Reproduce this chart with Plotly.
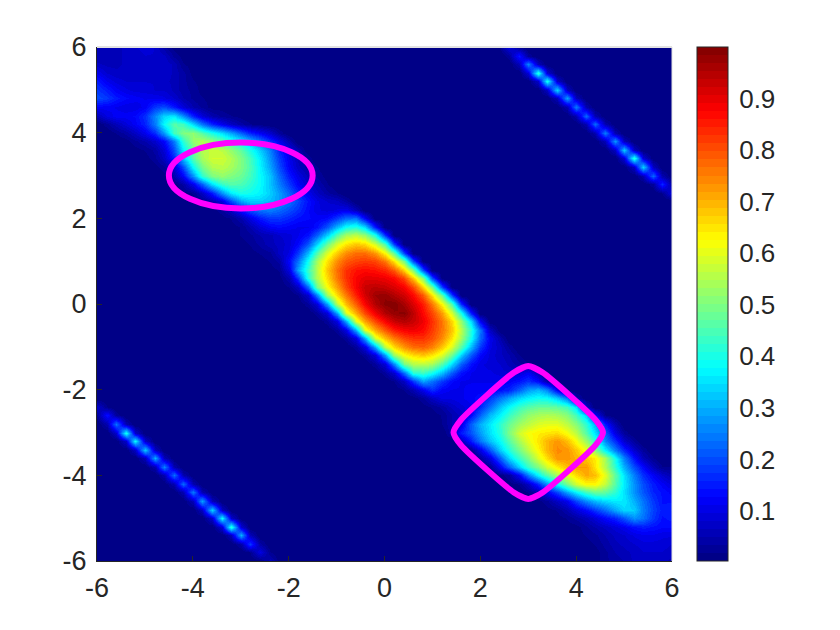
import numpy as np
import plotly.graph_objects as go

# grid of the surface, 0.2 steps, rows run from y=6 down to y=-6
x_grid = [round(-6 + 0.2 * i, 1) for i in range(61)]
y_grid = [round(6 - 0.2 * r, 1) for r in range(61)]

# diagonal band, percent; each row starts at column max(r-8, 0)
band_rows = [
    [5,5,6,7,8,9,8,4,1],
    [5,6,6,7,7,8,8,7,3,1],
    [7,6,6,7,7,8,8,8,6,2,1],
    [11,8,7,7,8,8,8,8,6,4,1,0],
    [15,11,9,8,8,8,8,7,6,4,2,1,0],
    [18,15,12,10,9,9,8,8,6,4,3,1,0,0],
    [20,18,15,13,12,11,11,10,8,5,3,2,1,0,0],
    [12,12,11,10,10,12,18,20,15,9,5,3,1,1,0,0],
    [6,10,12,12,13,17,26,34,36,27,16,9,5,3,2,1,0],
    [3,6,9,12,16,25,38,46,44,34,24,16,11,7,4,2,1],
    [2,4,7,11,17,28,44,50,52,46,40,35,29,22,16,12,8,3],
    [1,3,5,8,13,25,42,52,55,52,47,42,37,31,24,17,11,5],
    [1,2,4,9,20,36,48,55,57,56,52,47,40,33,25,16,10,5],
    [1,3,7,16,32,46,54,58,58,55,50,44,36,27,18,11,6,3],
    [1,3,8,20,38,49,55,56,54,50,45,37,29,20,12,7,4,2],
    [1,5,12,27,42,50,52,50,48,44,38,32,23,15,10,6,3,1],
    [1,4,11,22,35,43,46,45,42,38,32,25,18,12,8,5,2],
    [1,2,7,15,27,36,40,39,37,33,28,22,16,11,7,4,2],
    [1,2,5,10,20,29,33,33,31,28,24,19,14,10,8,7,4],
    [0,1,3,7,14,20,24,25,23,20,17,13,10,9,10,11,6],
    [0,1,2,5,10,15,18,18,16,14,13,12,13,18,23,24,12],
    [0,1,2,5,9,12,13,12,11,11,14,21,31,39,41,34,15],
    [1,2,3,5,6,8,9,11,14,22,33,46,54,56,52,40,17],
    [1,2,4,6,7,9,13,21,34,48,59,65,68,66,58,45,18],
    [1,2,3,7,10,18,31,46,59,68,74,77,77,73,63,47,19],
    [1,2,4,13,24,39,54,65,74,79,81,82,81,76,65,49,20],
    [1,2,10,29,43,56,68,77,83,86,87,86,84,79,67,50,20],
    [1,5,18,41,55,66,76,83,88,90,90,89,87,81,68,50,20],
    [2,7,23,49,62,72,81,88,93,94,93,91,88,81,67,49,19],
    [2,8,26,53,66,76,85,92,97,98,95,92,87,79,65,47,18],
    [3,9,28,56,69,79,88,95,99,100,96,91,85,76,63,45,17],
    [3,9,29,59,71,81,89,95,98,99,94,87,81,72,58,40,15],
    [3,10,30,60,72,81,88,93,95,93,89,83,76,66,52,34,12],
    [3,10,30,60,71,79,85,88,89,87,82,76,68,56,41,24,7],
    [3,10,30,59,69,76,81,83,83,80,74,65,54,39,23,11,5],
    [3,10,29,56,66,73,77,78,75,68,59,46,31,18,10,7,3],
    [3,9,28,53,62,66,68,65,59,48,33,21,13,9,7,5,2],
    [3,9,26,49,55,56,54,46,34,22,14,10,9,8,6,4,2],
    [3,8,23,41,43,39,31,21,14,11,10,10,9,8,9,12,6],
    [2,7,18,29,24,18,13,11,11,11,11,11,12,14,17,13,4],
    [2,5,11,17,12,11,11,12,12,12,14,16,22,28,31,26,12],
    [1,3,7,10,10,11,12,14,18,24,29,34,37,39,38,33,24,5],
    [1,2,4,7,9,11,16,24,32,38,43,46,48,48,47,44,35,8],
    [1,2,5,7,13,22,31,37,43,48,52,54,55,54,51,44,33,12,2],
    [2,5,10,22,30,36,42,48,53,56,59,60,60,56,51,42,30,15,5],
    [5,15,21,28,35,41,50,58,62,64,65,66,62,56,46,35,22,10,3],
    [6,15,24,32,38,46,54,60,65,70,73,69,62,53,42,26,17,8,3],
    [2,10,21,33,41,49,56,63,70,74,73,68,61,51,37,25,16,8,3],
    [3,10,22,34,43,50,59,66,73,73,70,68,64,54,39,25,14,6,2],
    [2,12,22,33,43,50,58,64,69,72,72,65,55,42,30,20,13,6,2,2],
    [1,3,12,25,37,46,54,60,66,71,69,60,47,35,25,17,12,8,5],
    [1,2,7,16,27,38,49,58,63,63,57,46,36,27,20,15,12,9],
    [0,2,5,12,19,29,37,44,48,47,42,35,27,21,16,14,12],
    [0,1,3,7,11,19,26,31,34,36,36,30,24,18,14,14],
    [0,1,2,5,9,13,18,23,29,34,33,25,19,15,16],
    [0,1,2,4,6,9,13,16,21,27,24,18,14,15],
    [0,1,1,3,5,7,9,11,14,15,14,13,13],
    [0,1,2,3,5,7,8,10,11,11,10,10],
    [0,1,2,4,6,7,8,9,9,9,8],
    [0,1,3,5,6,7,8,8,8,7],
    [1,3,4,5,7,7,7,7,6],
]

# the two thin stripes, percent, centre cell and the cells next to it
upper_stripe = [10,15,26,42,40,34,29,25,23,23,25,28,33,42,34,23,16,10]
upper_stripe_side = [2,3,6,9,8,7,6,5,5,5,5,6,7,9,7,5,3,2]
lower_stripe = [8,14,24,40,38,33,30,26,24,23,25,29,34,38,42,30,18,10,6]
lower_stripe_side = [2,3,5,8,8,7,6,5,5,5,5,6,7,8,9,6,4,2,1]

tick_vals = [-6, -4, -2, 0, 2, 4, 6]
tick_text = ["-6", "-4", "-2", "0", "2", "4", "6"]
cbar_vals = [0.1, 0.2, 0.3, 0.4, 0.5, 0.6, 0.7, 0.8, 0.9]
cbar_text = ["0.1", "0.2", "0.3", "0.4", "0.5", "0.6", "0.7", "0.8", "0.9"]
z_min = 0.003
z_max = 1.0

ellipse_x = [-4.5, -1.5]
ellipse_y = [2.23, 3.77]
diamond_x = [3, 3.3, 4.4, 4.56, 4.4, 3.3, 3, 2.7, 1.6, 1.44, 1.6, 2.7, 3]
diamond_y = [-1.45, -1.6, -2.7, -3, -3.3, -4.4, -4.55, -4.4, -3.3, -3, -2.7, -1.6, -1.45]

TEXT = "#262626"
FONT = "Liberation Sans"
PLOT_W = 575
CBAR_X = 1.0435
CBAR_W = 31


def jet_scale(n=64):
    # stepped jet like the colorbar in the picture
    stops = []
    for k in range(n):
        t = (k + 0.5) / n
        rgb = [np.clip(min(4 * t - c + 0.5, -4 * t + c + 2.5), 0, 1) for c in (2, 1, 0)]
        col = "rgb(%d,%d,%d)" % tuple(int(round(v * 255)) for v in rgb)
        stops.append([k / n, col])
        stops.append([(k + 1) / n, col])
    return stops


z = np.zeros((61, 61))
for r, vals in enumerate(band_rows):
    start = max(r - 8, 0)
    vals = vals[:61 - start]
    z[r, start:start + len(vals)] = vals

for k, (v, s) in enumerate(zip(upper_stripe, upper_stripe_side)):
    r, c = k, k + 43
    z[r, c] = v
    z[r, c - 1] = s
    if c + 1 < 61:
        z[r, c + 1] = s

for k, (v, s) in enumerate(zip(lower_stripe, lower_stripe_side)):
    r, c = k + 42, k
    z[r, c] = v
    z[r, c + 1] = s
    if c > 0:
        z[r, c - 1] = s

z = z / 100

fig = go.Figure()
fig.add_trace(go.Heatmap(
    x=x_grid, y=y_grid[::-1], z=z[::-1].tolist(), zmin=z_min, zmax=z_max,
    zsmooth="best", colorscale=jet_scale(), hoverinfo="skip",
    colorbar=dict(
        x=CBAR_X, xanchor="left", xpad=0, y=0.5, yanchor="middle", ypad=0,
        len=1, lenmode="fraction", thickness=CBAR_W, thicknessmode="pixels",
        outlinecolor=TEXT, outlinewidth=1, ticks="outside", ticklen=6,
        tickcolor="rgba(0,0,0,0)", tickvals=cbar_vals, ticktext=cbar_text,
        tickfont=dict(family=FONT, size=26, color=TEXT),
    ),
))
fig.add_trace(go.Scatter(
    x=diamond_x, y=diamond_y, mode="lines", showlegend=False, hoverinfo="skip",
    line=dict(color="#FF00FF", width=6, shape="spline", smoothing=0.6),
))
fig.add_shape(type="circle", xref="x", yref="y", x0=ellipse_x[0], x1=ellipse_x[1],
              y0=ellipse_y[0], y1=ellipse_y[1], line=dict(color="#FF00FF", width=6))
# faint top and right edge
fig.add_shape(type="line", xref="x domain", yref="y domain", x0=0, x1=1, y0=1, y1=1,
              line=dict(color="#e2e2e2", width=2))
fig.add_shape(type="line", xref="x domain", yref="y domain", x0=1, x1=1, y0=0, y1=1,
              line=dict(color="#e2e2e2", width=1))
# colorbar ticks point inwards, labels sit further out than plotly would put them
for v in cbar_vals:
    yp = (v - z_min) / (z_max - z_min)
    fig.add_shape(type="line", xref="paper", yref="paper",
                  x0=CBAR_X + (CBAR_W - 5) / PLOT_W, x1=CBAR_X + CBAR_W / PLOT_W,
                  y0=yp, y1=yp, line=dict(color=TEXT, width=1))

axis_style = dict(
    range=[-6, 6], tickmode="array", tickvals=tick_vals, ticktext=tick_text,
    ticks="inside", ticklen=5, tickcolor=TEXT, showline=True, linecolor=TEXT, linewidth=1,
    showgrid=False, zeroline=False, tickfont=dict(family=FONT, size=27, color=TEXT),
)
fig.update_xaxes(ticklabelstandoff=3, **axis_style)
fig.update_yaxes(ticklabelstandoff=4, **axis_style)
# the page adds an 8px body margin, so the figure is 8px smaller each way
fig.update_layout(
    width=832, height=622, margin=dict(l=89, r=168, t=39, b=69),
    paper_bgcolor="white", plot_bgcolor="white", showlegend=False,
)
fig.write_html("out.html")
